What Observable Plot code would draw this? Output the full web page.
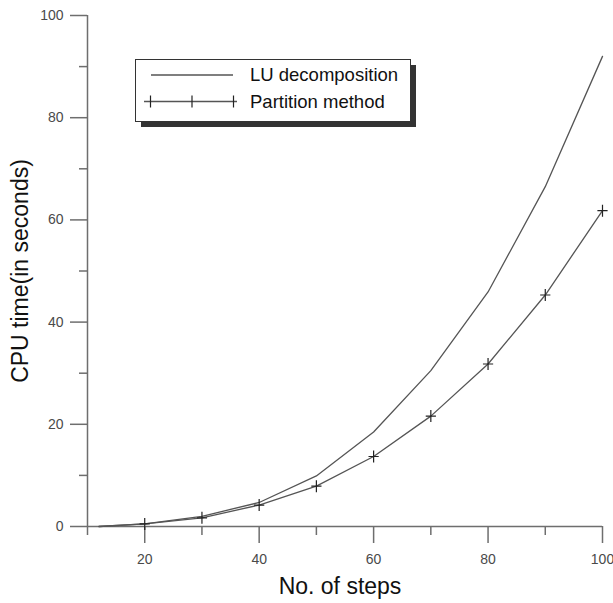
<!DOCTYPE html>
<html>
<head>
<meta charset="utf-8">
<script src="https://cdn.jsdelivr.net/npm/d3@7"></script>
<script src="https://cdn.jsdelivr.net/npm/@observablehq/plot@0.6"></script>
<style>
  html, body { margin: 0; padding: 0; background: #fff; }
  #wrap { position: relative; width: 613px; height: 603px; }
  #legend { position: absolute; left: 135px; top: 59px; }
</style>
</head>
<body>
<div id="wrap"></div>
<script>
const steps = [12, 20, 30, 40, 50, 60, 70, 80, 90, 100];
const luTime = [0, 0.5, 2.0, 4.7, 9.9, 18.5, 30.5, 45.9, 66.5, 92.0];
const partitionTime = [0, 0.5, 1.7, 4.2, 7.9, 13.7, 21.6, 31.8, 45.3, 61.8];
const xMajorTicks = [20, 40, 60, 80, 100];
const xMinorTicks = [10, 30, 50, 70, 90];
const yMajorTicks = [0, 20, 40, 60, 80, 100];
const yMinorTicks = [10, 30, 50, 70, 90];
const seriesNames = ["LU decomposition", "Partition method"];
const xLabel = "No. of steps";
const yLabel = "CPU time(in seconds)";

const data = steps.map((s, i) => ({step: s, lu: luTime[i], part: partitionTime[i]}));
const markerData = data.filter(d => d.step >= 20);

const thinCross = {
  draw(context, size) {
    const r = Math.sqrt(size / Math.PI);
    const rx = r * 0.85;
    context.moveTo(-rx, 0); context.lineTo(rx, 0);
    context.moveTo(0, -r); context.lineTo(0, r);
  }
};

const axisColor = "#6e6e6e";
const labelColor = "#4a4a4a";
const font = "'Liberation Sans', Arial, sans-serif";

const chart = Plot.plot({
  width: 613,
  height: 603,
  marginLeft: 87,
  marginRight: 11,
  marginTop: 15,
  marginBottom: 77,
  x: {domain: [10, 100]},
  y: {domain: [0, 100]},
  style: {fontFamily: font, fontSize: "14px", background: "#fff"},
  marks: [
    Plot.axisY(yMajorTicks, {tickSize: 17, tickPadding: 7, fontSize: 14, stroke: axisColor, fill: labelColor, strokeWidth: 1.5, label: null, tickFormat: d => String(d)}),
    Plot.axisY(yMinorTicks, {tickSize: 8, stroke: axisColor, strokeWidth: 1.5, label: null, tickFormat: () => ""}),
    Plot.axisX(xMajorTicks, {tickSize: 17, tickPadding: 11, fontSize: 14, stroke: axisColor, fill: labelColor, strokeWidth: 1.5, label: null, tickFormat: d => String(d)}),
    Plot.axisX(xMinorTicks, {tickSize: 9, stroke: axisColor, strokeWidth: 1.5, label: null, tickFormat: () => ""}),
    Plot.ruleX([10], {stroke: axisColor, strokeWidth: 1.5}),
    Plot.ruleY([0], {stroke: axisColor, strokeWidth: 1.5}),
    Plot.line(data, {x: "step", y: "lu", stroke: "#555", strokeWidth: 1.3}),
    Plot.line(data, {x: "step", y: "part", stroke: "#555", strokeWidth: 1.3}),
    Plot.dot(markerData, {x: "step", y: "part", symbol: thinCross, r: 6, stroke: "#222", strokeWidth: 1.2, fill: "none"}),
    Plot.text([xLabel], {frameAnchor: "bottom", lineAnchor: "middle", textAnchor: "middle", dy: 60, dx: -5, fontSize: 23, fill: "#111", text: d => d}),
    Plot.text([yLabel], {frameAnchor: "left", lineAnchor: "middle", textAnchor: "middle", dx: -67, rotate: -90, fontSize: 23, fill: "#111", text: d => d})
  ]
});

const wrap = document.getElementById("wrap");
wrap.appendChild(chart);

// Legend overlay
const lg = d3.create("svg").attr("id", "legend").attr("width", 285).attr("height", 72)
  .style("font-family", font);
lg.append("rect").attr("x", 6).attr("y", 6).attr("width", 275).attr("height", 62).attr("fill", "#333");
lg.append("rect").attr("x", 0.5).attr("y", 0.5).attr("width", 275).attr("height", 62)
  .attr("fill", "#fff").attr("stroke", "#333").attr("stroke-width", 1);
lg.append("line").attr("x1", 16).attr("x2", 98).attr("y1", 16).attr("y2", 16)
  .attr("stroke", "#555").attr("stroke-width", 1.3);
lg.append("line").attr("x1", 9).attr("x2", 102).attr("y1", 42.5).attr("y2", 42.5)
  .attr("stroke", "#555").attr("stroke-width", 1.3);
[15.5, 57, 98.5].forEach(cx => {
  lg.append("line").attr("x1", cx).attr("x2", cx).attr("y1", 36.5).attr("y2", 48.5)
    .attr("stroke", "#222").attr("stroke-width", 1.2);
});
lg.append("text").attr("x", 115).attr("y", 16).attr("dy", "0.35em").attr("font-size", 18.5)
  .attr("fill", "#111").text(seriesNames[0]);
lg.append("text").attr("x", 115).attr("y", 42.5).attr("dy", "0.35em").attr("font-size", 18.5)
  .attr("fill", "#111").text(seriesNames[1]);
wrap.appendChild(lg.node());
</script>
</body>
</html>
